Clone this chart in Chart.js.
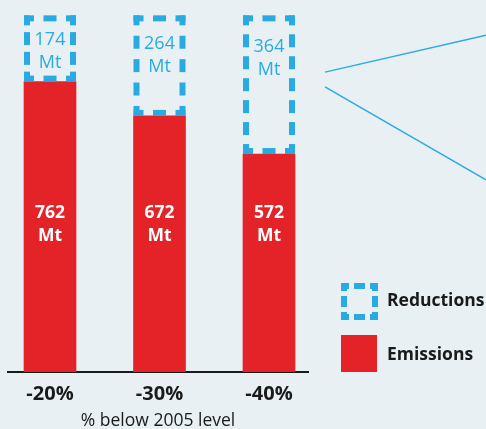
<!DOCTYPE html>
<html><head><meta charset="utf-8">
<script src="https://cdn.jsdelivr.net/npm/chart.js@4.4.1/dist/chart.umd.min.js"></script>
<style>html,body{margin:0;padding:0;background:#e8f0f3;} canvas{display:block;}</style>
</head><body>
<canvas id="c" width="486" height="429"></canvas>
<script>
// ---- data ----
const categories = ['-20%', '-30%', '-40%'];
const emissions = [762, 672, 572];
const reductions = [174, 264, 364];
const unit = 'Mt';
const seriesNames = ['Emissions', 'Reductions'];
const axisTitle = '% below 2005 level';

// ---- style ----
const RED = '#e42328', BLUE = '#29abe2', INK = '#1a1a1a';
const FONT = '"Open Sans", "Noto Sans", sans-serif';
const LW = 6;

function drawSide(ctx, x, y, len, horiz, lw, c, d, g0) {
  const segs = [[0, c]];
  const rest = len - 2 * c;
  const n = Math.max(1, Math.round((rest - g0) / (d + g0)));
  const g = (rest - n * d) / (n + 1);
  for (let i = 0; i < n; i++) {
    const s = c + g + i * (d + g);
    segs.push([s, s + d]);
  }
  segs.push([len - c, len]);
  for (const [s, e] of segs) {
    if (horiz) ctx.fillRect(x + s, y, e - s, lw);
    else ctx.fillRect(x, y + s, lw, e - s);
  }
}
function dashedBox(ctx, l, t, r, b, lw, c, d, g0) {
  drawSide(ctx, l, t, r - l, true, lw, c, d, g0);
  drawSide(ctx, l, b - lw, r - l, true, lw, c, d, g0);
  drawSide(ctx, l, t, b - t, false, lw, c, d, g0);
  drawSide(ctx, r - lw, t, b - t, false, lw, c, d, g0);
}

const decorPlugin = {
  id: 'decor',
  afterDatasetsDraw(chart) {
    const ctx = chart.ctx;
    const yS = chart.scales.y;
    const emMeta = chart.getDatasetMeta(0);
    const reMeta = chart.getDatasetMeta(1);
    ctx.save();
    // dashed reductions boxes
    ctx.fillStyle = BLUE;
    reMeta.data.forEach(el => {
      const p = el.getProps(['x', 'y', 'base', 'width'], true);
      dashedBox(ctx, p.x - p.width / 2, p.y, p.x + p.width / 2, p.base, LW, 10, 13, 9);
    });
    ctx.textAlign = 'center';
    ctx.textBaseline = 'middle';
    // reductions labels
    ctx.font = '18px ' + FONT;
    ctx.fillStyle = BLUE;
    reMeta.data.forEach((el, i) => {
      const p = el.getProps(['x', 'y', 'base'], true);
      const h = p.base - p.y;
      const y1 = p.y + 18 + 0.1 * h;
      ctx.fillText(String(reductions[i]), p.x, y1);
      ctx.fillText(unit, p.x, y1 + 23);
    });
    // emissions labels
    ctx.font = 'bold 17.5px ' + FONT;
    ctx.fillStyle = '#ffffff';
    const ly = yS.getPixelForValue(418);
    emMeta.data.forEach((el, i) => {
      const p = el.getProps(['x'], true);
      ctx.fillText(String(emissions[i]), p.x, ly);
      ctx.fillText(unit, p.x, ly + 23.5);
    });
    // callout lines from last bar
    const last = reMeta.data[reMeta.data.length - 1].getProps(['x', 'width'], true);
    const sx = last.x + last.width / 2 + 30;
    const W = chart.width;
    ctx.strokeStyle = BLUE;
    ctx.lineWidth = 1.5;
    ctx.beginPath();
    ctx.moveTo(sx, yS.getPixelForValue(787));
    ctx.lineTo(W, yS.getPixelForValue(787) - 37 * (W - sx) / 161);
    ctx.moveTo(sx, yS.getPixelForValue(748));
    ctx.lineTo(W, yS.getPixelForValue(748) + 93 * (W - sx) / 161);
    ctx.stroke();
    // legend
    const ca = chart.chartArea;
    const lx = ca.right + 33;
    const t1 = ca.bottom - 89, t2 = ca.bottom - 37;
    ctx.fillStyle = BLUE;
    dashedBox(ctx, lx, t1, lx + 37, t1 + 37, LW, 8, 11, 5);
    ctx.fillStyle = RED;
    ctx.fillRect(lx, t2, 36, 37);
    ctx.fillStyle = INK;
    ctx.textAlign = 'left';
    ctx.font = 'bold 17.5px ' + FONT;
    ctx.fillText(seriesNames[1], lx + 46, t1 + 18);
    ctx.fillText(seriesNames[0], lx + 46, t2 + 20);
    ctx.restore();
  }
};

new Chart(document.getElementById('c'), {
  type: 'bar',
  data: {
    datasets: [
      { label: seriesNames[0], data: emissions.map((v, i) => ({ x: i, y: v })),
        backgroundColor: RED, borderWidth: 0, barThickness: 52 },
      { label: seriesNames[1], data: reductions.map((v, i) => ({ x: i, y: v })),
        backgroundColor: 'rgba(0,0,0,0)', borderWidth: 0, barThickness: 52 }
    ]
  },
  options: {
    responsive: false,
    devicePixelRatio: 1,
    animation: false,
    layout: { padding: { left: 8, right: 178, top: 10, bottom: 0 } },
    plugins: { legend: { display: false }, tooltip: { enabled: false } },
    scales: {
      x: {
        type: 'linear', stacked: true, offset: false, min: -0.3836, max: 2.3562,
        afterBuildTicks: s => { s.ticks = categories.map((_, i) => ({ value: i })); },
        ticks: { callback: v => categories[v] ?? '', autoSkip: false, maxRotation: 0,
                 font: { family: FONT, size: 20, weight: 'bold', lineHeight: 1 }, color: INK, padding: 12.5 },
        grid: { display: false, drawTicks: false, offset: false },
        border: { display: true, color: INK, width: 2 },
        title: { display: true, text: axisTitle, color: INK,
                 font: { family: FONT, size: 17.5, lineHeight: '8px' }, padding: { top: 0, bottom: 4 } }
      },
      y: { stacked: true, display: false, min: 0, max: 950 }
    }
  },
  plugins: [decorPlugin]
});
</script>
</body></html>
